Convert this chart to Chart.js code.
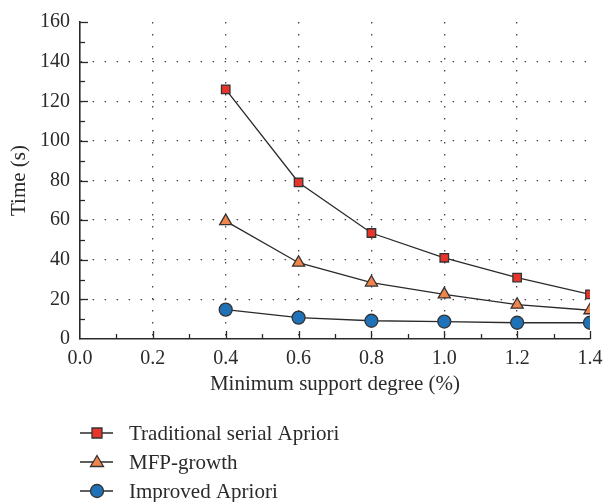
<!DOCTYPE html>
<html>
<head>
<meta charset="utf-8">
<script src="https://cdn.jsdelivr.net/npm/chart.js@4"></script>
<style>
  html, body { margin: 0; padding: 0; background: #fff; }
  #wrap { width: 605px; height: 502px; }
</style>
</head>
<body>
<div id="wrap"><canvas id="chartCanvas" width="605" height="502"></canvas></div>
<script>
const supportDegree = [0.4, 0.6, 0.8, 1.0, 1.2, 1.4];
const traditionalApriori = [126, 79, 53.5, 41, 31, 22.5];
const mfpGrowth = [59.5, 38.5, 28.5, 22.5, 17.3, 14.5];
const improvedApriori = [14.8, 10.8, 9.2, 8.8, 8.2, 8.2];

const xTicks = [0.0, 0.2, 0.4, 0.6, 0.8, 1.0, 1.2, 1.4];
const yTicks = [0, 20, 40, 60, 80, 100, 120, 140, 160];

const FONT = "'Liberation Serif', 'DejaVu Serif', serif";
const INK = "#2a2a2a";

function pts(values) {
    return supportDegree.map((x, i) => ({ x: x, y: values[i] }));
}

function drawMarker(ctx, style, cx, cy, fill) {
    ctx.save();
    ctx.fillStyle = fill;
    ctx.strokeStyle = "#333";
    ctx.lineWidth = 1.3;
    ctx.beginPath();
    if (style === "rect") {
        ctx.rect(cx - 5, cy - 5, 10, 10);
    } else if (style === "triangle") {
        ctx.moveTo(cx, cy - 6.5);
        ctx.lineTo(cx + 6.5, cy + 4.5);
        ctx.lineTo(cx - 6.5, cy + 4.5);
        ctx.closePath();
    } else {
        ctx.arc(cx, cy, 6.5, 0, Math.PI * 2);
    }
    ctx.fill();
    ctx.stroke();
    ctx.restore();
}

// inward major/minor tick marks on both axes
const axisTicks = {
    id: "axisTicks",
    afterDraw(chart) {
        const { ctx, chartArea: a, scales: { x, y } } = chart;
        ctx.save();
        ctx.strokeStyle = INK;
        ctx.lineWidth = 1.3;
        for (let i = 1; i <= 14; i++) {
            const px = Math.round(x.getPixelForValue(i / 10)) + 0.5;
            const len = i % 2 === 0 ? 8 : 5;
            ctx.beginPath();
            ctx.moveTo(px, a.bottom);
            ctx.lineTo(px, a.bottom - len);
            ctx.stroke();
        }
        for (let i = 1; i <= 16; i++) {
            const py = Math.round(y.getPixelForValue(i * 10)) + 0.5;
            const len = i % 2 === 0 ? 8 : 5;
            ctx.beginPath();
            ctx.moveTo(a.left, py);
            ctx.lineTo(a.left + len, py);
            ctx.stroke();
        }
        ctx.restore();
    }
};

// legend stacked one entry per row under the axis title
const stackedLegend = {
    id: "stackedLegend",
    afterDraw(chart) {
        const ctx = chart.ctx;
        ctx.save();
        ctx.font = "21px " + FONT;
        ctx.textBaseline = "middle";
        chart.data.datasets.forEach((ds, i) => {
            const cy = 433 + i * 29;
            ctx.strokeStyle = INK;
            ctx.lineWidth = 1.3;
            ctx.beginPath();
            ctx.moveTo(80, cy);
            ctx.lineTo(113, cy);
            ctx.stroke();
            drawMarker(ctx, ds.pointStyle, 97, cy, ds.pointBackgroundColor);
            ctx.fillStyle = INK;
            ctx.fillText(ds.label, 129, cy + 1);
        });
        ctx.restore();
    }
};

const gridColor = (ctx, edgeA, edgeB) => {
    const v = ctx.tick ? ctx.tick.value : null;
    return (v === edgeA || v === edgeB) ? "rgba(0,0,0,0)" : "#444";
};

const ctx = document.getElementById("chartCanvas").getContext("2d");

new Chart(ctx, {
    type: "line",
    data: {
        datasets: [
            {
                label: "Traditional serial Apriori",
                data: pts(traditionalApriori),
                borderColor: INK,
                borderWidth: 1.3,
                pointStyle: "rect",
                pointRadius: 6,
                pointBackgroundColor: "#e8352b",
                pointBorderColor: "#333",
                pointBorderWidth: 1.3,
                tension: 0
            },
            {
                label: "MFP-growth",
                data: pts(mfpGrowth),
                borderColor: INK,
                borderWidth: 1.3,
                pointStyle: "triangle",
                pointRadius: 7,
                pointBackgroundColor: "#f0844a",
                pointBorderColor: "#333",
                pointBorderWidth: 1.3,
                tension: 0
            },
            {
                label: "Improved Apriori",
                data: pts(improvedApriori),
                borderColor: INK,
                borderWidth: 1.3,
                pointStyle: "circle",
                pointRadius: 6.5,
                pointBackgroundColor: "#1f72b8",
                pointBorderColor: "#333",
                pointBorderWidth: 1.3,
                tension: 0
            }
        ]
    },
    options: {
        responsive: false,
        animation: false,
        layout: { padding: { top: 19, right: 0, bottom: 101, left: 0 } },
        plugins: {
            legend: { display: false },
            tooltip: { enabled: false }
        },
        scales: {
            x: {
                type: "linear",
                min: 0,
                max: 1.4,
                afterBuildTicks: scale => { scale.ticks = xTicks.map(v => ({ value: v })); },
                afterFit: scale => {
                    scale.height = 62;
                    scale.paddingRight = 15;
                },
                border: { display: true, color: INK, width: 1.6, dash: [1.5, 10.5] },
                grid: {
                    drawTicks: false,
                    color: c => gridColor(c, 0, 1.4),
                    lineWidth: 1.3
                },
                ticks: {
                    padding: 8,
                    color: INK,
                    font: { family: FONT, size: 20 },
                    callback: v => v.toFixed(1)
                },
                title: {
                    display: true,
                    text: "Minimum support degree (%)",
                    color: INK,
                    font: { family: FONT, size: 21 },
                    padding: { top: 10 }
                }
            },
            y: {
                min: 0,
                max: 160,
                afterBuildTicks: scale => { scale.ticks = yTicks.map(v => ({ value: v })); },
                afterFit: scale => { scale.width = 80; },
                border: { display: true, color: INK, width: 1.6, dash: [1.5, 10.5] },
                grid: {
                    drawTicks: false,
                    color: c => gridColor(c, 0, 160),
                    lineWidth: 1.3
                },
                ticks: {
                    padding: 10,
                    color: INK,
                    font: { family: FONT, size: 20 }
                },
                title: {
                    display: true,
                    text: "Time (s)",
                    color: INK,
                    font: { family: FONT, size: 21 },
                    padding: { top: 7, bottom: 0 }
                }
            }
        }
    },
    plugins: [axisTicks, stackedLegend]
});
</script>
</body>
</html>
